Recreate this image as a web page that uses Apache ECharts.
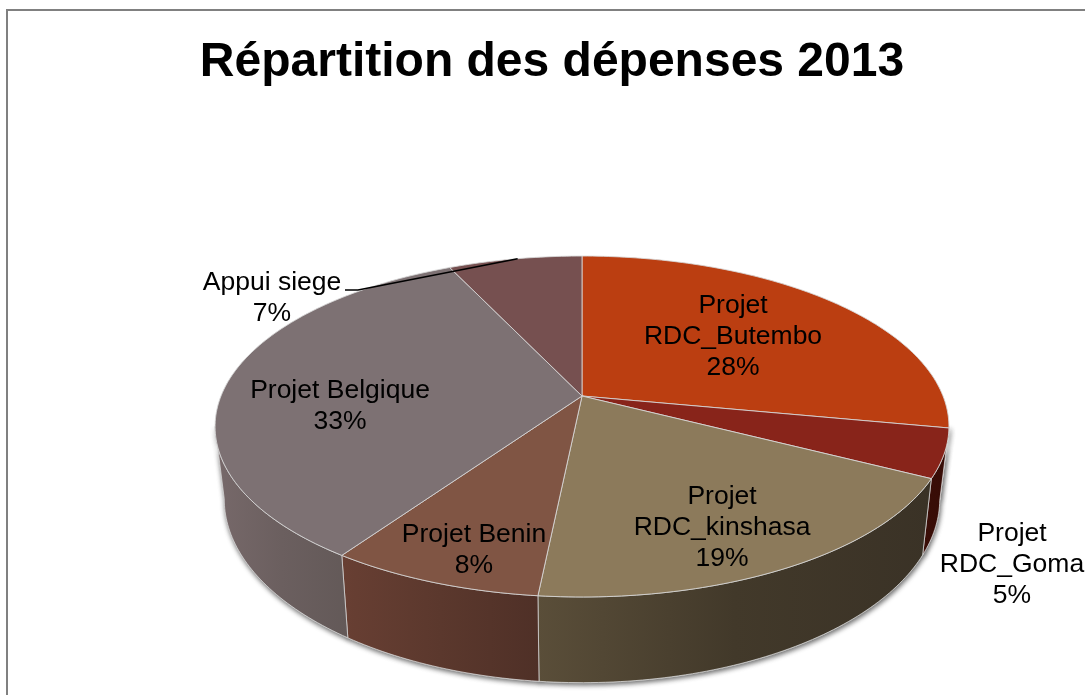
<!DOCTYPE html>
<html>
<head>
<meta charset="utf-8">
<style>
  html, body { margin: 0; padding: 0; background: #fff; }
  #main { width: 1085px; height: 695px; }
</style>
<script src="https://cdn.jsdelivr.net/npm/echarts@6/dist/echarts.min.js"></script>
</head>
<body>
<div id="main"></div>
<script>
  const categories = ['Projet RDC_Butembo', 'Projet RDC_Goma', 'Projet RDC_kinshasa', 'Projet Benin', 'Projet Belgique', 'Appui siege'];
  const values = [28.0, 4.6, 19.0, 8.0, 33.4, 7.0];
  const labelLines = [['Projet', 'RDC_Butembo'], ['Projet', 'RDC_Goma'], ['Projet', 'RDC_kinshasa'], ['Projet Benin'], ['Projet Belgique'], ['Appui siege']];

  const topColors = ['#bb3e11', '#88241a', '#8c7a5b', '#805544', '#7d7173', '#765050'];
  const wallColors = [
    ['#bb3e11', '#bb3e11', '#bb3e11'],
    ['#3a0e07', '#380d07', '#360c06'],
    ['#5a4e39', '#42392a', '#3a3226'],
    ['#683f33', '#5b382d', '#4f3027'],
    ['#77696a', '#6b5f5f', '#635958'],
    ['#765050', '#765050', '#765050'],
  ];
  const labelCenters = [[733, 336.5], [1012, 564.5], [722, 528], [474, 550], [340, 406.5], [272, 298.5]];

  // plateau du camembert : cercle vu en perspective
  const cx = 582;
  const cy = 396;
  const ax = 361;
  const by = 165;
  const persp = 0.179;
  const wallFrom = 100.3;
  const wallTo = 259.7;

  const total = values.reduce((a, b) => a + b, 0);
  const starts = [];
  values.reduce((sum, v, i) => {
    starts[i] = sum / total * 360;
    return sum + v;
  }, 0);

  function rim(deg) {
    const r = deg * Math.PI / 180;
    const x = Math.sin(r);
    const y = -Math.cos(r);
    const d = 1 - persp * y;
    return [cx + ax * x / d, cy + by * y / d];
  }

  function lower(p) {
    return [cx + (p[0] - cx) * 0.975, cy + 70 + (p[1] - cy) * 1.078];
  }

  function arc(from, to) {
    const pts = [];
    const n = Math.max(2, Math.ceil(to - from));
    for (let k = 0; k <= n; k += 1) {
      pts.push(rim(from + (to - from) * k / n));
    }
    return pts;
  }

  function wallPolygon(i, shadow) {
    const from = Math.max(starts[i], wallFrom);
    const to = Math.min(starts[i] + values[i] / total * 360, wallTo);
    if (to <= from) {
      return null;
    }
    const top = arc(from, to);
    const points = top.concat(top.map(lower).reverse());
    const style = {
      fill: new echarts.graphic.LinearGradient(0, 0, 1, 0, [
        { offset: 0, color: wallColors[i][0] },
        { offset: 0.5, color: wallColors[i][1] },
        { offset: 1, color: wallColors[i][2] },
      ]),
      stroke: 'rgba(215,215,215,0.75)',
      lineWidth: 1,
    };
    if (shadow) {
      style.shadowColor = 'rgba(0,0,0,0.6)';
      style.shadowBlur = 5;
      style.shadowOffsetY = 2;
      style.shadowOffsetX = 1;
    }
    return { type: 'polygon', shape: { points }, style };
  }

  function renderShadow(params) {
    const wall = wallPolygon(params.dataIndex, true);
    return wall || { type: 'group', children: [] };
  }

  function renderSlice(params, api) {
    const i = params.dataIndex;
    const start = starts[i];
    const end = start + api.value(0) / total * 360;
    const children = [];
    const wall = wallPolygon(i, false);
    if (wall) {
      children.push(wall);
    }
    children.push({
      type: 'polygon',
      shape: { points: [[cx, cy]].concat(arc(start, end)) },
      style: { fill: topColors[i], stroke: 'rgba(215,215,215,0.85)', lineWidth: 1 },
    });
    return { type: 'group', children };
  }

  function renderLabel(params, api) {
    const i = params.dataIndex;
    const pct = Math.round(api.value(0) / total * 100) + '%';
    const lines = labelLines[i].concat(pct);
    const children = [{
      type: 'text',
      x: labelCenters[i][0],
      y: labelCenters[i][1],
      style: {
        text: lines.join('\n'),
        font: '26.5px "Liberation Sans", Arial, sans-serif',
        lineHeight: 31,
        fill: '#000',
        align: 'center',
        verticalAlign: 'middle',
      },
    }];
    if (i === values.length - 1) {
      const tip = rim(starts[i] + values[i] / total * 360 * 0.52);
      children.push({
        type: 'polyline',
        shape: { points: [[345, 290], [358, 290], tip] },
        style: { stroke: '#000', lineWidth: 1.6, fill: null },
      });
    }
    return { type: 'group', children };
  }

  const chartData = values.map((v, i) => ({ name: categories[i], value: v }));
  const myChart = echarts.init(document.getElementById('main'), null, { renderer: 'canvas' });
  myChart.setOption({
    animation: false,
    backgroundColor: '#fff',
    title: {
      text: 'Répartition des dépenses 2013',
      left: 547,
      top: 34,
      textAlign: 'center',
      textStyle: {
        fontFamily: '"Liberation Sans", Arial, sans-serif',
        fontSize: 48,
        fontWeight: 'bold',
        color: '#000',
      },
    },
    graphic: [{
      type: 'rect',
      silent: true,
      shape: { x: 7, y: 10, width: 1300, height: 900 },
      style: { fill: null, stroke: '#808080', lineWidth: 2 },
    }],
    series: [
      { type: 'custom', coordinateSystem: 'none', silent: true, renderItem: renderShadow, data: chartData },
      { type: 'custom', coordinateSystem: 'none', silent: true, renderItem: renderSlice, data: chartData },
      { type: 'custom', coordinateSystem: 'none', silent: true, renderItem: renderLabel, data: chartData },
    ],
  });
</script>
</body>
</html>
